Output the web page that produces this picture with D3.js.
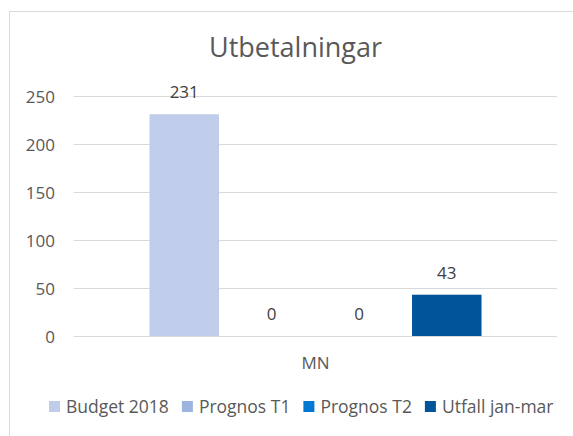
<!DOCTYPE html>
<html>
<head>
<meta charset="utf-8">
<script src="https://cdn.jsdelivr.net/npm/d3@7"></script>
<style>
  body { margin: 0; background: #fff; }
  svg text { font-family: "Open Sans", "Noto Sans", sans-serif; }
</style>
</head>
<body>
<div id="chart"></div>
<script>
// Chart data
const categories = ["MN"];
const seriesNames = ["Budget 2018", "Prognos T1", "Prognos T2", "Utfall jan-mar"];
const seriesValues = [231, 0, 0, 43];
const seriesColors = ["#BFCDEA", "#9EB4E0", "#0078D2", "#00559A"];
const yTicks = [0, 50, 100, 150, 200, 250];

const width = 573, height = 436;

const svg = d3.select("#chart")
    .append("svg")
    .attr("width", width)
    .attr("height", height);

// chart frame
svg.append("rect")
    .attr("x", 9.5).attr("y", 11.5)
    .attr("width", 600).attr("height", 460)
    .attr("fill", "#fff")
    .attr("stroke", "#d9d9d9");

// title
svg.append("text")
    .attr("x", 295.5)
    .attr("y", 57)
    .attr("text-anchor", "middle")
    .attr("font-size", "27px")
    .attr("fill", "#595959")
    .text("Utbetalningar");

const y = d3.scaleLinear()
    .domain([0, 250])
    .range([336, 96]);

const x0 = d3.scaleBand()
    .domain(categories)
    .range([74, 557])
    .paddingInner(0)
    .paddingOuter(0.2274);

const x1 = d3.scaleBand()
    .domain(seriesNames)
    .range([0, x0.bandwidth()])
    .paddingInner(0.206)
    .paddingOuter(0);

// gridlines
svg.append("g")
    .selectAll("line")
    .data(yTicks)
    .join("line")
    .attr("x1", 74).attr("x2", 557)
    .attr("y1", d => Math.round(y(d)) + 0.5)
    .attr("y2", d => Math.round(y(d)) + 0.5)
    .attr("stroke", "#d9d9d9")
    .attr("stroke-width", 1);

// y axis labels
const yAxis = d3.axisLeft(y).tickValues(yTicks).tickSize(0).tickPadding(0);
const gy = svg.append("g")
    .attr("transform", "translate(55,0)")
    .call(yAxis);
gy.select(".domain").remove();
gy.selectAll("text")
    .attr("font-size", "17px")
    .attr("font-family", "Open Sans, sans-serif")
    .attr("fill", "#595959")
    .attr("dy", "0.36em");

// bars
const groups = svg.append("g")
    .selectAll("g")
    .data(categories)
    .join("g")
    .attr("transform", d => `translate(${x0(d)},0)`);

const barData = seriesNames.map((s, i) => ({ name: s, value: seriesValues[i], color: seriesColors[i] }));

groups.selectAll("rect")
    .data(barData)
    .join("rect")
    .attr("x", d => x1(d.name))
    .attr("y", d => y(d.value))
    .attr("width", x1.bandwidth())
    .attr("height", d => y(0) - y(d.value))
    .attr("fill", d => d.color);

// data labels
groups.selectAll("text")
    .data(barData)
    .join("text")
    .attr("x", d => x1(d.name) + x1.bandwidth() / 2)
    .attr("y", d => y(d.value) - 16)
    .attr("text-anchor", "middle")
    .attr("font-size", "17px")
    .attr("fill", "#404040")
    .text(d => d.value);

// category label
svg.append("g")
    .selectAll("text")
    .data(categories)
    .join("text")
    .attr("x", d => x0(d) + x0.bandwidth() / 2)
    .attr("y", 369)
    .attr("text-anchor", "middle")
    .attr("font-size", "17px")
    .attr("fill", "#595959")
    .text(d => d);

// legend
const legend = svg.append("g");
const items = legend.selectAll("g")
    .data(barData)
    .join("g");

items.append("rect")
    .attr("width", 11)
    .attr("height", 11)
    .attr("y", 401)
    .attr("fill", d => d.color);

items.append("text")
    .attr("x", 17)
    .attr("y", 413)
    .attr("font-size", "17.5px")
    .attr("fill", "#595959")
    .text(d => d.name);

let widths = [];
items.each(function () {
    widths.push(17 + d3.select(this).select("text").node().getComputedTextLength());
});
const gap = 13;
let cx = 49;
items.attr("transform", (d, i) => {
    const t = `translate(${cx},0)`;
    cx += widths[i] + gap;
    return t;
});
</script>
</body>
</html>
